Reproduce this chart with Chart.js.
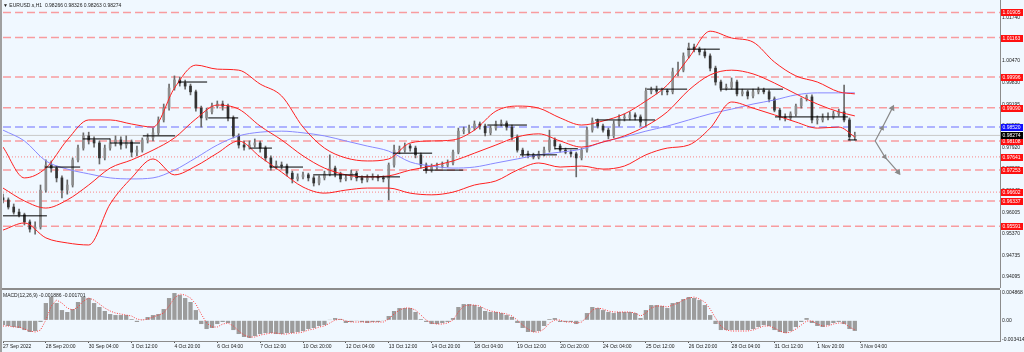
<!DOCTYPE html>
<html>
<head>
<meta charset="utf-8">
<script src="https://cdn.jsdelivr.net/npm/chart.js@4.4.0/dist/chart.umd.min.js"></script>
<style>
  body { margin: 0; background: #f0f8ff; }
  #wrap { position: relative; width: 1024px; height: 352px; background: #f0f8ff; overflow: hidden; font-family: "Liberation Sans", Arial, sans-serif; }
  canvas { position: absolute; left: 0; }
  .lbl { position: absolute; font-size: 5px; line-height: 6px; color: #1a1a1a; white-space: nowrap; }
</style>
</head>
<body>
<div id="wrap">
  <canvas id="priceChart" width="1024" height="288" style="top:0"></canvas>
  <canvas id="macdChart" width="1024" height="62" style="top:290px"></canvas>
  <div style="position:absolute;left:0;top:288px;width:1000px;height:2px;background:#8c8c8c"></div>
  <div style="position:absolute;left:0;top:0;width:2px;height:352px;background:#a0a0a0"></div>
  <div class="lbl" style="left:3px;top:2px">&#9660; EURUSD.s,H1&nbsp; 0.98266 0.98326 0.98263 0.98274</div>
  <div class="lbl" style="left:3px;top:292px">MACD(12,26,9) -0.001886 -0.001701</div>
</div>
<script>
// time axis: one bar = 4 hours, a label every 8 bars
const timeLabels = ['27 Sep 2022', '28 Sep 20:00', '30 Sep 04:00', '3 Oct 12:00', '4 Oct 20:00', '6 Oct 04:00',
  '7 Oct 12:00', '10 Oct 20:00', '12 Oct 04:00', '13 Oct 12:00', '14 Oct 20:00', '18 Oct 04:00', '19 Oct 12:00',
  '20 Oct 20:00', '24 Oct 04:00', '25 Oct 12:00', '26 Oct 20:00', '28 Oct 04:00', '31 Oct 12:00', '1 Nov 20:00', '3 Nov 04:00'];
const labelBars = [0, 8, 16, 24, 32, 40, 48, 56, 64, 72, 80, 88, 96, 104, 112, 120, 128, 136, 144, 152, 160];

const priceTicks = [1.01740, 1.01105, 1.00470, 0.99830, 0.99195, 0.98555, 0.97920, 0.97285, 0.96645, 0.96005, 0.95370, 0.94735, 0.94095];

const openP = [.9643,.9637,.9616,.9601,.9593,.9572,.9551,.9557,.9666,.9740,
  .9731,.9702,.9666,.9681,.9755,.9790,.9826,.9814,.9805,.9761,
  .9790,.9805,.9814,.9799,.9808,.9778,.9784,.9814,.9820,.9835,
  .9873,.9908,.9967,.9991,.9982,.9973,.9956,.9908,.9879,.9897,
  .9914,.9920,.9914,.9879,.9826,.9799,.9793,.9799,.9805,.9790,
  .9761,.9734,.9740,.9737,.9716,.9699,.9705,.9711,.9702,.9687,
  .9702,.9714,.9731,.9714,.9699,.9702,.9716,.9702,.9696,.9702,
  .9705,.9702,.9699,.9740,.9784,.9784,.9796,.9790,.9770,.9740,
  .9725,.9734,.9737,.9740,.9746,.9778,.9840,.9843,.9849,.9861,
  .9855,.9835,.9849,.9861,.9864,.9852,.9823,.9784,.9773,.9770,
  .9764,.9773,.9784,.9814,.9796,.9784,.9778,.9773,.9761,.9784,
  .9843,.9870,.9855,.9843,.9826,.9861,.9879,.9879,.9888,.9882,
  .9867,.9958,.9961,.9958,.9958,.9956,1.0015,1.0020,1.0062,1.0088,
  1.0082,1.0074,1.0062,1.0026,.9985,.9967,.9970,.9985,.9950,.9956,
  .9944,.9956,.9961,.9956,.9935,.9902,.9882,.9879,.9891,.9914,
  .9935,.9941,.9873,.9873,.9879,.9882,.9891,.9897,.9873,.9823];
const highP = [.9654,.9643,.9625,.9610,.9598,.9578,.9572,.9681,.9755,.9752,
  .9737,.9708,.9696,.9761,.9799,.9835,.9837,.9823,.9811,.9799,
  .9817,.9826,.9823,.9826,.9814,.9796,.9820,.9832,.9849,.9882,
  .9920,.9979,1.0003,1.0000,.9991,.9979,.9961,.9914,.9908,.9923,
  .9929,.9929,.9920,.9885,.9832,.9811,.9811,.9817,.9811,.9796,
  .9767,.9752,.9749,.9743,.9722,.9714,.9719,.9716,.9708,.9708,
  .9722,.9770,.9737,.9719,.9711,.9725,.9722,.9708,.9711,.9714,
  .9711,.9708,.9746,.9799,.9796,.9805,.9802,.9796,.9775,.9746,
  .9743,.9746,.9749,.9755,.9784,.9849,.9852,.9858,.9870,.9867,
  .9861,.9855,.9870,.9873,.9870,.9858,.9829,.9790,.9781,.9775,
  .9781,.9793,.9843,.9820,.9802,.9790,.9784,.9778,.9790,.9852,
  .9879,.9876,.9861,.9849,.9870,.9888,.9891,.9897,.9894,.9888,
  .9967,.9970,.9973,.9967,.9964,1.0026,1.0044,1.0071,1.0100,1.0097,
  1.0088,1.0082,1.0068,1.0032,.9991,.9979,.9997,.9991,.9964,.9961,
  .9964,.9970,.9967,.9961,.9941,.9908,.9891,.9897,.9920,.9938,
  .9947,.9947,.9885,.9891,.9894,.9899,.9905,.9976,.9879,.9837];
const lowP = [.9628,.9610,.9595,.9587,.9563,.9542,.9536,.9551,.9660,.9719,
  .9690,.9643,.9654,.9675,.9749,.9784,.9802,.9793,.9743,.9755,
  .9784,.9796,.9787,.9790,.9764,.9767,.9778,.9805,.9811,.9829,
  .9867,.9902,.9961,.9973,.9964,.9947,.9899,.9852,.9873,.9891,
  .9908,.9902,.9870,.9820,.9790,.9784,.9787,.9793,.9778,.9752,
  .9725,.9728,.9728,.9708,.9687,.9693,.9699,.9693,.9678,.9681,
  .9696,.9708,.9705,.9690,.9693,.9696,.9693,.9687,.9690,.9696,
  .9693,.9690,.9637,.9734,.9773,.9778,.9781,.9761,.9731,.9716,
  .9719,.9728,.9731,.9734,.9740,.9773,.9832,.9835,.9843,.9846,
  .9826,.9829,.9843,.9855,.9843,.9814,.9778,.9764,.9761,.9758,
  .9758,.9767,.9778,.9787,.9778,.9773,.9764,.9705,.9755,.9778,
  .9837,.9849,.9837,.9817,.9820,.9855,.9870,.9873,.9873,.9855,
  .9855,.9950,.9950,.9947,.9947,.9950,1.0003,1.0015,1.0056,1.0074,
  1.0065,1.0056,1.0018,.9976,.9958,.9961,.9964,.9944,.9944,.9935,
  .9938,.9950,.9950,.9926,.9897,.9873,.9870,.9873,.9885,.9908,
  .9929,.9864,.9861,.9867,.9873,.9876,.9885,.9867,.9814,.9814];
const closeP = [.9637,.9616,.9601,.9593,.9572,.9551,.9557,.9666,.9740,.9731,
  .9702,.9666,.9681,.9755,.9790,.9826,.9814,.9805,.9761,.9790,
  .9805,.9814,.9799,.9808,.9778,.9784,.9814,.9820,.9835,.9873,
  .9908,.9967,.9991,.9982,.9973,.9956,.9908,.9879,.9897,.9914,
  .9920,.9914,.9879,.9826,.9799,.9793,.9799,.9805,.9790,.9761,
  .9734,.9740,.9737,.9716,.9699,.9705,.9711,.9702,.9687,.9702,
  .9714,.9731,.9714,.9699,.9702,.9716,.9702,.9696,.9702,.9705,
  .9702,.9699,.9740,.9784,.9784,.9796,.9790,.9770,.9740,.9725,
  .9734,.9737,.9740,.9746,.9778,.9840,.9843,.9849,.9861,.9855,
  .9835,.9849,.9861,.9864,.9852,.9823,.9784,.9773,.9770,.9764,
  .9773,.9784,.9814,.9796,.9784,.9778,.9773,.9761,.9784,.9843,
  .9870,.9855,.9843,.9826,.9861,.9879,.9879,.9888,.9882,.9867,
  .9958,.9961,.9958,.9958,.9956,1.0015,1.0020,1.0062,1.0088,1.0082,
  1.0074,1.0062,1.0026,.9985,.9967,.9970,.9985,.9950,.9956,.9944,
  .9956,.9961,.9956,.9935,.9902,.9882,.9879,.9891,.9914,.9935,
  .9941,.9873,.9873,.9879,.9882,.9891,.9897,.9873,.9823,.98274];

// bollinger bands and moving average, sampled every 4 bars
const bandBars = [0,4,8,12,16,20,24,28,32,36,40,44,48,52,56,60,64,68,72,76,80,84,88,92,96,100,
  104,108,112,116,120,124,128,132,136,140,144,148,152,156,159];
const bandUpper = [.9793,.9702,.9731,.9814,.9873,.9873,.9861,.9852,.9967,1.0035,1.0023,1.0020,.9979,.9944,
  .9852,.9790,.9761,.9752,.9758,.9805,.9811,.9814,.9843,.9899,.9914,.9908,.9879,.9858,.9870,.9891,
  .9929,.9976,1.0056,1.0135,1.0115,1.0103,1.0044,1.0003,.9985,.9956,.9950];
const bandMiddle = [.9672,.9634,.9613,.9637,.9681,.9731,.9755,.9784,.9820,.9876,.9917,.9905,.9855,.9814,
  .9767,.9731,.9711,.9705,.9708,.9725,.9737,.9752,.9775,.9799,.9823,.9832,.9811,.9793,.9808,.9826,
  .9855,.9897,.9961,1.0006,1.0020,1.0009,.9982,.9950,.9920,.9897,.9885];
const bandLower = [.9548,.9569,.9525,.9510,.9504,.9625,.9702,.9758,.9711,.9737,.9775,.9811,.9764,.9719,
  .9675,.9657,.9666,.9672,.9672,.9657,.9652,.9660,.9681,.9693,.9725,.9746,.9734,.9737,.9728,.9737,
  .9770,.9790,.9799,.9849,.9926,.9908,.9888,.9867,.9849,.9852,.9823];
const maLine = [.9843,.9811,.9752,.9728,.9714,.9702,.9699,.9702,.9725,.9761,.9799,.9826,.9837,.9840,
  .9835,.9826,.9811,.9796,.9781,.9749,.9737,.9731,.9734,.9746,.9758,.9770,.9778,.9787,.9808,.9823,
  .9840,.9855,.9873,.9891,.9905,.9920,.9932,.9947,.9953,.9953,.9953];

// daily reference segments: start bar, end bar, price
const segStart = [0, 7.8, 14.9, 20, 26.1, 32.7, 38.3, 46.1, 49.8, 57.9, 66.1, 72.8, 78.4, 90.4, 96.5, 103, 110.5, 120.2, 127.7, 133.8, 144.1, 157.7];
const segEnd = [8.2, 14.4, 20, 25.6, 32.1, 38.1, 43.9, 50.2, 56, 66.1, 74.1, 80.1, 85.9, 97.8, 103.4, 107.3, 121.7, 127.7, 133.8, 145.6, 157.7, 159.4];
const segPrice = [.9590, .9734, .9817, .9805, .9826, .9985, .9879, .9790, .9734, .9711, .9705, .9775, .9725, .9858, .9770, .9788, .9873, .9964, 1.0082, .9964, .9882, .9814];

// horizontal levels
const dashedLevels = [1.01905, 1.01163, 0.99996, 0.99090, 0.98108, 0.97253, 0.96337, 0.95591];
const dottedLevels = [0.97641, 0.96602];
const blueLevel = 0.98520;
const lastPrice = 0.98274;

// projection arrows
const arrowUpBars = [162.8, 164.1, 166.0];
const arrowUpPrices = [0.9811, 0.9849, 0.9908];
const arrowDownBars = [162.8, 164.6, 167.1];
const arrowDownPrices = [0.9811, 0.9764, 0.9719];

// MACD(12,26,9)
const macdMain = [-.00084,-.00101,-.00119,-.00137,-.00173,-.00208,-.00190,-.00030,.00308,.00415,
  .00308,.00183,.00148,.00201,.00326,.00415,.00397,.00308,.00237,.00166,
  .00112,.00094,.00094,.00094,.00023,-.00030,.00005,.00059,.00094,.00112,
  .00201,.00397,.00486,.00450,.00397,.00326,.00183,-.00066,-.00155,-.00137,
  -.00066,-.00030,-.00048,-.00173,-.00244,-.00297,-.00315,-.00279,-.00244,-.00226,
  -.00226,-.00244,-.00244,-.00226,-.00226,-.00208,-.00190,-.00155,-.00137,-.00101,
  -.00084,.00005,.00041,.00023,-.00048,-.00030,-.00012,-.00030,-.00048,-.00030,
  -.00030,-.00012,.00077,.00166,.00219,.00219,.00219,.00148,.00023,-.00030,
  -.00066,-.00066,-.00048,-.00030,.00041,.00237,.00290,.00290,.00272,.00237,
  .00166,.00148,.00148,.00130,.00094,.00059,-.00048,-.00137,-.00208,-.00208,
  -.00190,-.00101,.00023,.00041,-.00030,-.00030,-.00030,-.00066,-.00012,.00130,
  .00237,.00219,.00183,.00148,.00130,.00148,.00148,.00148,.00130,.00041,
  .00183,.00272,.00272,.00255,.00219,.00308,.00326,.00379,.00415,.00397,
  .00361,.00272,.00094,-.00066,-.00173,-.00173,-.00173,-.00173,-.00173,-.00173,
  -.00155,-.00119,-.00084,-.00101,-.00173,-.00208,-.00226,-.00190,-.00119,-.00030,
  .00041,-.00048,-.00101,-.00119,-.00084,-.00048,-.00030,-.00066,-.00155,-.001886];
const macdSignal = [-.00101,-.00101,-.00119,-.00119,-.00155,-.00190,-.00208,-.00173,.00005,.00255,
  .00361,.00308,.00219,.00183,.00237,.00344,.00397,.00361,.00290,.00219,
  .00166,.00130,.00112,.00094,.00077,.00023,.00005,.00023,.00059,.00094,
  .00130,.00255,.00397,.00468,.00450,.00397,.00290,.00112,-.00048,-.00119,
  -.00119,-.00066,-.00048,-.00101,-.00190,-.00262,-.00297,-.00297,-.00262,-.00244,
  -.00226,-.00226,-.00244,-.00244,-.00226,-.00226,-.00208,-.00173,-.00155,-.00119,
  -.00101,-.00048,.00005,.00023,-.00012,-.00030,-.00030,-.00030,-.00030,-.00030,
  -.00030,-.00030,.00023,.00112,.00183,.00219,.00219,.00183,.00094,.00005,
  -.00048,-.00066,-.00066,-.00048,.00005,.00148,.00255,.00272,.00272,.00255,
  .00201,.00166,.00148,.00130,.00112,.00077,.00005,-.00084,-.00155,-.00208,
  -.00208,-.00155,-.00048,.00005,.00005,-.00030,-.00030,-.00048,-.00030,.00059,
  .00183,.00219,.00201,.00166,.00148,.00148,.00148,.00148,.00130,.00077,
  .00130,.00219,.00255,.00255,.00237,.00272,.00308,.00361,.00397,.00415,
  .00379,.00326,.00201,.00041,-.00101,-.00173,-.00190,-.00190,-.00190,-.00190,
  -.00173,-.00137,-.00101,-.00101,-.00137,-.00190,-.00226,-.00208,-.00155,-.00084,
  -.00012,-.00012,-.00066,-.00101,-.00101,-.00066,-.00048,-.00048,-.00119,-.001701];
const macdTicks = [0.004868, 0, -0.003414];

Chart.defaults.font.family = '"Liberation Sans", Arial, sans-serif';
Chart.defaults.font.size = 5;
Chart.defaults.color = '#1a1a1a';

const X_MIN = 0, X_MAX = 186.1;

function fixWidth(scale) { scale.width = 24; scale.paddingTop = 0; scale.paddingBottom = 0; }

const pts = (xs, ys) => xs.map((x, i) => ({ x: x, y: ys[i] }));

const segPoints = [];
segStart.forEach((s, i) => {
  segPoints.push({ x: s, y: segPrice[i] }, { x: segEnd[i], y: segPrice[i] }, { x: segEnd[i], y: null });
});

const levelPlugin = {
  id: 'levels',
  beforeDatasetsDraw(chart) {
    const { ctx, chartArea: a, scales: { y } } = chart;
    ctx.save();
    ctx.beginPath(); ctx.rect(a.left, a.top, a.right - a.left, a.bottom - a.top); ctx.clip();
    const hline = (v, color, dash, w) => {
      const py = y.getPixelForValue(v);
      ctx.lineWidth = w;
      ctx.strokeStyle = color; ctx.setLineDash(dash);
      ctx.beginPath(); ctx.moveTo(a.left, py); ctx.lineTo(a.right, py); ctx.stroke();
    };
    hline(lastPrice, '#c8c8c8', [], 1);
    dashedLevels.forEach(v => hline(v, 'rgba(255,80,80,0.55)', [8, 4], 1.5));
    dottedLevels.forEach(v => hline(v, 'rgba(255,80,80,0.55)', [1, 2], 1.2));
    hline(blueLevel, 'rgba(80,80,255,0.55)', [8, 4], 1.5);
    ctx.restore();
  },
  afterDraw(chart) {
    const { ctx, chartArea: a, scales: { y } } = chart;
    ctx.save();
    ctx.font = '5px "Liberation Sans", Arial, sans-serif';
    ctx.textBaseline = 'middle';
    const tag = (v, bg) => {
      const py = Math.round(y.getPixelForValue(v));
      ctx.fillStyle = bg;
      ctx.fillRect(a.right + 1, py - 3, 22, 7);
      ctx.fillStyle = '#ffffff';
      ctx.fillText(v.toFixed(5), a.right + 2.5, py + 0.5);
    };
    dashedLevels.concat(dottedLevels).forEach(v => tag(v, '#ff1010'));
    tag(blueLevel, '#1010ff');
    tag(lastPrice, '#000000');
    ctx.restore();
  }
};

const bandStyle = { type: 'line', borderColor: '#ff2020', borderWidth: 1, pointRadius: 0, cubicInterpolationMode: 'monotone', order: 1 };

new Chart(document.getElementById('priceChart'), {
  type: 'bar',
  data: {
    datasets: [
      Object.assign({ data: pts(bandBars, bandUpper) }, bandStyle),
      Object.assign({ data: pts(bandBars, bandMiddle) }, bandStyle),
      Object.assign({ data: pts(bandBars, bandLower) }, bandStyle),
      { type: 'line', data: pts(bandBars, maLine), borderColor: '#8888ff', borderWidth: 1, pointRadius: 0, cubicInterpolationMode: 'monotone', order: 1 },
      { type: 'line', data: segPoints, borderColor: '#000000', borderWidth: 1, pointRadius: 0, spanGaps: false, order: 0 },
      { type: 'line', data: pts(arrowUpBars, arrowUpPrices), borderColor: '#8a8a8a', backgroundColor: '#8a8a8a', borderWidth: 1.2,
        pointStyle: 'triangle', pointRadius: [0, 2, 2.5], pointRotation: 27, order: 0 },
      { type: 'line', data: pts(arrowDownBars, arrowDownPrices), borderColor: '#8a8a8a', backgroundColor: '#8a8a8a', borderWidth: 1.2,
        pointStyle: 'triangle', pointRadius: [0, 2, 2.5], pointRotation: 143, order: 0 },
      { data: openP.map((o, i) => ({ x: i, y: [lowP[i], highP[i]] })), backgroundColor: '#6a6a6a', barThickness: 1, grouped: false, order: 3 },
      { data: openP.map((o, i) => ({ x: i, y: [o, closeP[i]] })), grouped: false, order: 2, barThickness: 2, minBarLength: 1,
        backgroundColor: openP.map((o, i) => closeP[i] >= o ? '#8e8e8e' : '#333333'), borderWidth: 0 }
    ]
  },
  options: {
    responsive: false, animation: false, events: [],
    layout: { autoPadding: false, padding: { left: 3, right: 0, top: 0, bottom: 0 } },
    plugins: { legend: { display: false }, tooltip: { enabled: false } },
    scales: {
      x: { type: 'linear', min: X_MIN, max: X_MAX, offset: false, display: false, grid: { offset: false } },
      y: {
        position: 'right', min: 0.93770, max: 1.02271,
        afterBuildTicks: s => { s.ticks = priceTicks.map(v => ({ value: v })); },
        afterFit: fixWidth,
        ticks: { callback: v => v.toFixed(5), padding: 1, color: '#1a1a1a' },
        grid: { drawOnChartArea: false, tickLength: 1, color: '#555' },
        border: { color: '#8c8c8c' }
      }
    }
  },
  plugins: [levelPlugin]
});

new Chart(document.getElementById('macdChart'), {
  type: 'bar',
  data: {
    datasets: [
      { type: 'line', data: macdSignal.map((v, i) => ({ x: i, y: v })), borderColor: '#ff3a3a', borderWidth: 1,
        borderDash: [1, 1.5], pointRadius: 0, order: 0 },
      { data: macdMain.map((v, i) => ({ x: i, y: v })), backgroundColor: '#9c9c9c', barPercentage: 0.8, categoryPercentage: 1, order: 1 }
    ]
  },
  options: {
    responsive: false, animation: false, events: [],
    layout: { autoPadding: false, padding: { left: 3, right: 0, top: 0, bottom: 0 } },
    plugins: { legend: { display: false }, tooltip: { enabled: false } },
    scales: {
      x: {
        type: 'linear', min: X_MIN, max: X_MAX, offset: false,
        afterBuildTicks: s => { s.ticks = labelBars.map(v => ({ value: v })); },
        afterFit: s => { s.height = 11; s.paddingLeft = 0; s.paddingRight = 0; },
        ticks: { callback: (v, i) => timeLabels[i], align: 'start', autoSkip: false, maxRotation: 0, padding: 1, color: '#1a1a1a' },
        grid: { drawOnChartArea: false, tickLength: 2, color: '#555', offset: false },
        border: { color: '#8c8c8c' }
      },
      y: {
        position: 'right', min: -0.00368, max: 0.0054,
        afterBuildTicks: s => { s.ticks = macdTicks.map(v => ({ value: v })); },
        afterFit: fixWidth,
        ticks: { callback: v => v === 0 ? '0.00' : v.toFixed(6), padding: 1, color: '#1a1a1a' },
        grid: { drawOnChartArea: false, tickLength: 1, color: '#555' },
        border: { color: '#8c8c8c' }
      }
    }
  }
});
</script>
</body>
</html>
